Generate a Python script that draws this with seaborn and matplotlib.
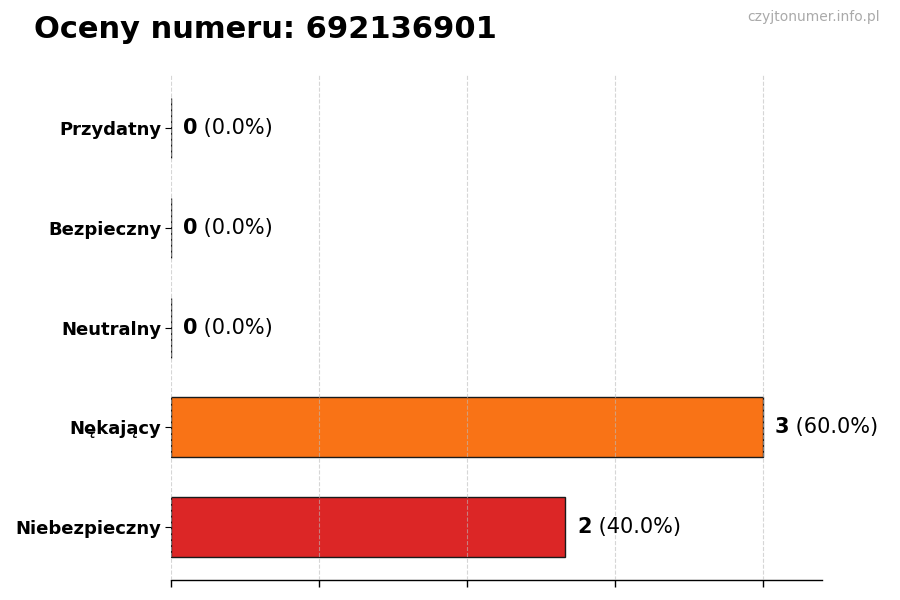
import numpy as np
import pandas as pd
import seaborn as sns
import matplotlib.pyplot as plt

# dane
categories = ['Przydatny', 'Bezpieczny', 'Neutralny', 'Nękający', 'Niebezpieczny']
counts = [0, 0, 0, 3, 2]
bar_colors = ['#22C55E', '#3B82F6', '#9CA3AF', '#F97316', '#DC2626']
phone = '692136901'

total = sum(counts)
df = pd.DataFrame({'kategoria': categories, 'liczba': counts})

sns.set_style('white')
plt.rcParams['text.color'] = 'black'
plt.rcParams['axes.labelcolor'] = 'black'
plt.rcParams['xtick.color'] = 'black'
plt.rcParams['ytick.color'] = 'black'

fig = plt.figure(figsize=(9, 6), dpi=100)
ax = fig.add_axes([0.19, 0.033, 0.723, 0.842])

sns.barplot(data=df, x='liczba', y='kategoria', hue='kategoria', palette=bar_colors,
            orient='h', width=0.6, saturation=1, edgecolor='#1a1a1a', linewidth=1,
            legend=False, ax=ax)

max_val = max(counts)
ax.set_xlim(0, max_val * 1.1)
ax.set_ylim(len(categories) - 0.47, -0.53)
ax.set_xticks(np.linspace(0, max_val, 5))
ax.set_xticklabels([])
ax.set_xlabel('')
ax.set_ylabel('')
ax.tick_params(axis='x', length=5, width=1, color='black', direction='out', bottom=True)
ax.tick_params(axis='y', length=4, width=0.8, color='black', left=True, pad=3)
for lab in ax.get_yticklabels():
    lab.set_fontweight('bold')
    lab.set_fontsize(13)
    lab.set_color('black')

ax.set_axisbelow(False)
ax.grid(axis='x', linestyle='--', color='#bbbbbb', linewidth=0.8, alpha=0.6)
for side in ['top', 'right', 'left']:
    ax.spines[side].set_visible(False)
ax.spines['bottom'].set_color('black')
ax.spines['bottom'].set_linewidth(1)

for i, v in enumerate(counts):
    pct = v / total * 100 if total else 0
    t = ax.text(v + max_val * 0.02, i, str(v), fontsize=15, fontweight='bold',
                va='center', ha='left', color='black')
    ax.annotate(f' ({pct:.1f}%)', xy=(1, 0.5), xycoords=t, fontsize=15,
                va='center', ha='left', color='black')

fig.text(0.038, 0.95, f'Oceny numeru: {phone}', fontsize=22, fontweight='bold',
         va='center', ha='left', color='black')
fig.text(0.978, 0.972, 'czyjtonumer.info.pl', fontsize=10, color='#aaaaaa',
         va='center', ha='right')

fig.savefig('out.png', dpi=100)
